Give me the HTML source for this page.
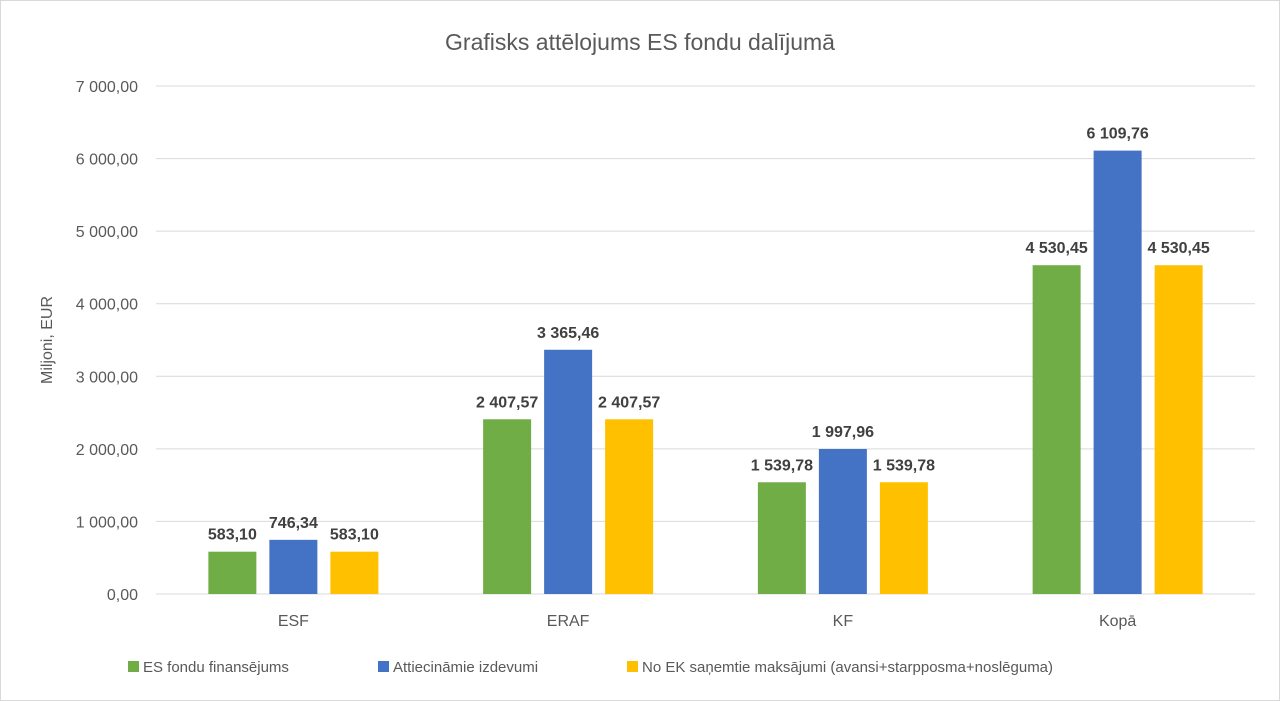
<!DOCTYPE html>
<html><head><meta charset="utf-8"><style>
body{margin:0;background:#fff;}
svg{display:block;font-family:"Liberation Sans",sans-serif;}
</style></head><body>
<svg id="chart" width="1280" height="701" viewBox="0 0 1280 701">
<rect x="0.5" y="0.5" width="1279" height="700" fill="#fff" stroke="#d9d9d9"/>
<text x="640" y="50" text-anchor="middle" font-size="23" fill="#595959">Grafisks attēlojums ES fondu dalījumā</text>
<text transform="translate(52,340) rotate(-90)" text-anchor="middle" font-size="16" fill="#595959">Miljoni, EUR</text>
<g id="grid"></g><g id="bars"></g><g id="labels"></g>
<g>
<rect x="128" y="661" width="11" height="11" fill="#70ad47"/>
<text x="143" y="672" font-size="15" fill="#595959">ES fondu finansējums</text>
<rect x="378" y="661" width="11" height="11" fill="#4472c4"/>
<text x="393" y="672" font-size="15" fill="#595959">Attiecināmie izdevumi</text>
<rect x="627" y="661" width="11" height="11" fill="#ffc000"/>
<text x="642" y="672" font-size="15" fill="#595959">No EK saņemtie maksājumi (avansi+starpposma+noslēguma)</text>
</g>
</svg>
<script>
const categories=["ESF","ERAF","KF","Kopā"];
const seriesFunding=[583.10,2407.57,1539.78,4530.45];
const seriesEligible=[746.34,3365.46,1997.96,6109.76];
const seriesPayments=[583.10,2407.57,1539.78,4530.45];
const yTicks=[0,1000,2000,3000,4000,5000,6000,7000];
const NS="http://www.w3.org/2000/svg";
const x0=156,x1=1255,yBase=594,yTop=86,yMax=7000;
const y=v=>yBase-(v/yMax)*(yBase-yTop);
const bandW=(x1-x0)/categories.length;
const cx=i=>x0+bandW*(i+0.5);
function fmt(v){const p=v.toFixed(2).split(".");return p[0].replace(/\B(?=(\d{3})+(?!\d))/g," ")+","+p[1];}
function mk(t,a,p){const e=document.createElementNS(NS,t);for(const k in a)e.setAttribute(k,a[k]);p.appendChild(e);return e;}
const grid=document.getElementById("grid"),bars=document.getElementById("bars"),labels=document.getElementById("labels");
yTicks.forEach(v=>{
 const l=mk("line",{x1:x0,x2:x1,y1:y(v),y2:y(v),stroke:"#d9d9d9","stroke-width":1},grid);
 
 
 const t=mk("text",{x:x0-18,y:y(v)+6,"text-anchor":"end","font-size":16,fill:"#595959"},grid);
 t.textContent=fmt(v);
 
 
});
const series=[[seriesFunding,"#70ad47"],[seriesEligible,"#4472c4"],[seriesPayments,"#ffc000"]];
const bw=48,step=61;
categories.forEach((c,i)=>{
 const t=mk("text",{x:cx(i),y:626,"text-anchor":"middle","font-size":16,fill:"#595959"},labels);
 t.textContent=c;
 
 
 series.forEach((s,j)=>{
  const v=s[0][i];const bx=cx(i)+(j-1)*step-bw/2;
  const r=mk("rect",{x:bx,y:y(v),width:bw,height:yBase-y(v),fill:s[1]},bars);
  
  
  const lt=mk("text",{x:bx+bw/2,y:y(v)-12,"text-anchor":"middle","font-size":16,"font-weight":"bold",fill:"#404040"},labels);
  lt.textContent=fmt(v);
  
  
 });
});
</script>
</body></html>
